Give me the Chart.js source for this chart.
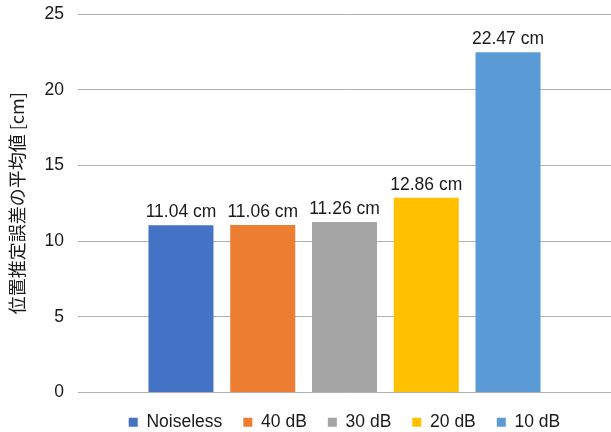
<!DOCTYPE html>
<html>
<head>
<meta charset="utf-8">
<script src="https://cdn.jsdelivr.net/npm/chart.js@4/dist/chart.umd.min.js"></script>
<style>
  html, body { margin: 0; padding: 0; background: #fff; }
  #wrap { width: 611px; height: 432px; }
</style>
</head>
<body>
<div id="wrap"><canvas id="errChart"></canvas></div>
<script>
// ノイズ条件ごとの位置推定誤差 (平均値, cm)
const conditions = ['Noiseless', '40 dB', '30 dB', '20 dB', '10 dB'];
const meanErrors = [11.04, 11.06, 11.26, 12.86, 22.47];
const barColors = ['#4472C4', '#ED7D31', '#A5A5A5', '#FFC000', '#5B9BD5'];
const yTicks = [0, 5, 10, 15, 20, 25];

const latinFont = "'Liberation Sans', Arial, sans-serif";

// 各棒の上に値を表示する
const valueLabels = {
    id: 'valueLabels',
    afterDatasetsDraw(chart) {
        const ctx = chart.ctx;
        ctx.save();
        ctx.font = '17.5px ' + latinFont;
        ctx.fillStyle = '#1a1a1a';
        ctx.textAlign = 'center';
        ctx.textBaseline = 'bottom';
        chart.data.datasets.forEach((ds, i) => {
            const bar = chart.getDatasetMeta(i).data[0];
            ctx.fillText(ds.data[0].toFixed(2) + ' cm', bar.x, bar.y - 4);
        });
        ctx.restore();
    }
};

const ctx = document.getElementById('errChart').getContext('2d');

new Chart(ctx, {
    type: 'bar',
    data: {
        labels: [''],
        datasets: conditions.map((name, i) => ({
            label: name,
            data: [meanErrors[i]],
            backgroundColor: barColors[i],
            categoryPercentage: 0.767,
            barPercentage: 0.795
        }))
    },
    options: {
        responsive: true,
        maintainAspectRatio: false,
        animation: false,
        layout: { padding: { top: 0, right: 0, bottom: -9, left: 0 } },
        plugins: {
            tooltip: { enabled: false },
            legend: {
                position: 'bottom',
                fullSize: false,
                labels: {
                    boxWidth: 9,
                    boxHeight: 9,
                    padding: 21,
                    color: '#1a1a1a',
                    font: { size: 17.5, family: latinFont }
                }
            }
        },
        scales: {
            x: {
                display: false
            },
            y: {
                min: 0,
                max: 25,
                afterBuildTicks(scale) {
                    scale.ticks = yTicks.map(v => ({ value: v }));
                },
                afterFit(scale) {
                    scale.width = 78;
                },
                grid: { color: '#b0b0b0', lineWidth: 1, drawTicks: false },
                border: { display: false },
                ticks: {
                    padding: 14,
                    color: '#1a1a1a',
                    // 行の高さを 0 にして上端の余白を詰める
                    font: { size: 17.5, family: latinFont, lineHeight: 0 }
                },
                title: {
                    display: true,
                    text: '位置推定誤差の平均値 [cm]',
                    color: '#1a1a1a',
                    padding: { top: 6, bottom: 0 },
                    font: { size: 18, family: "'Noto Sans CJK JP', " + latinFont }
                }
            }
        }
    },
    plugins: [valueLabels]
});
</script>
</body>
</html>
